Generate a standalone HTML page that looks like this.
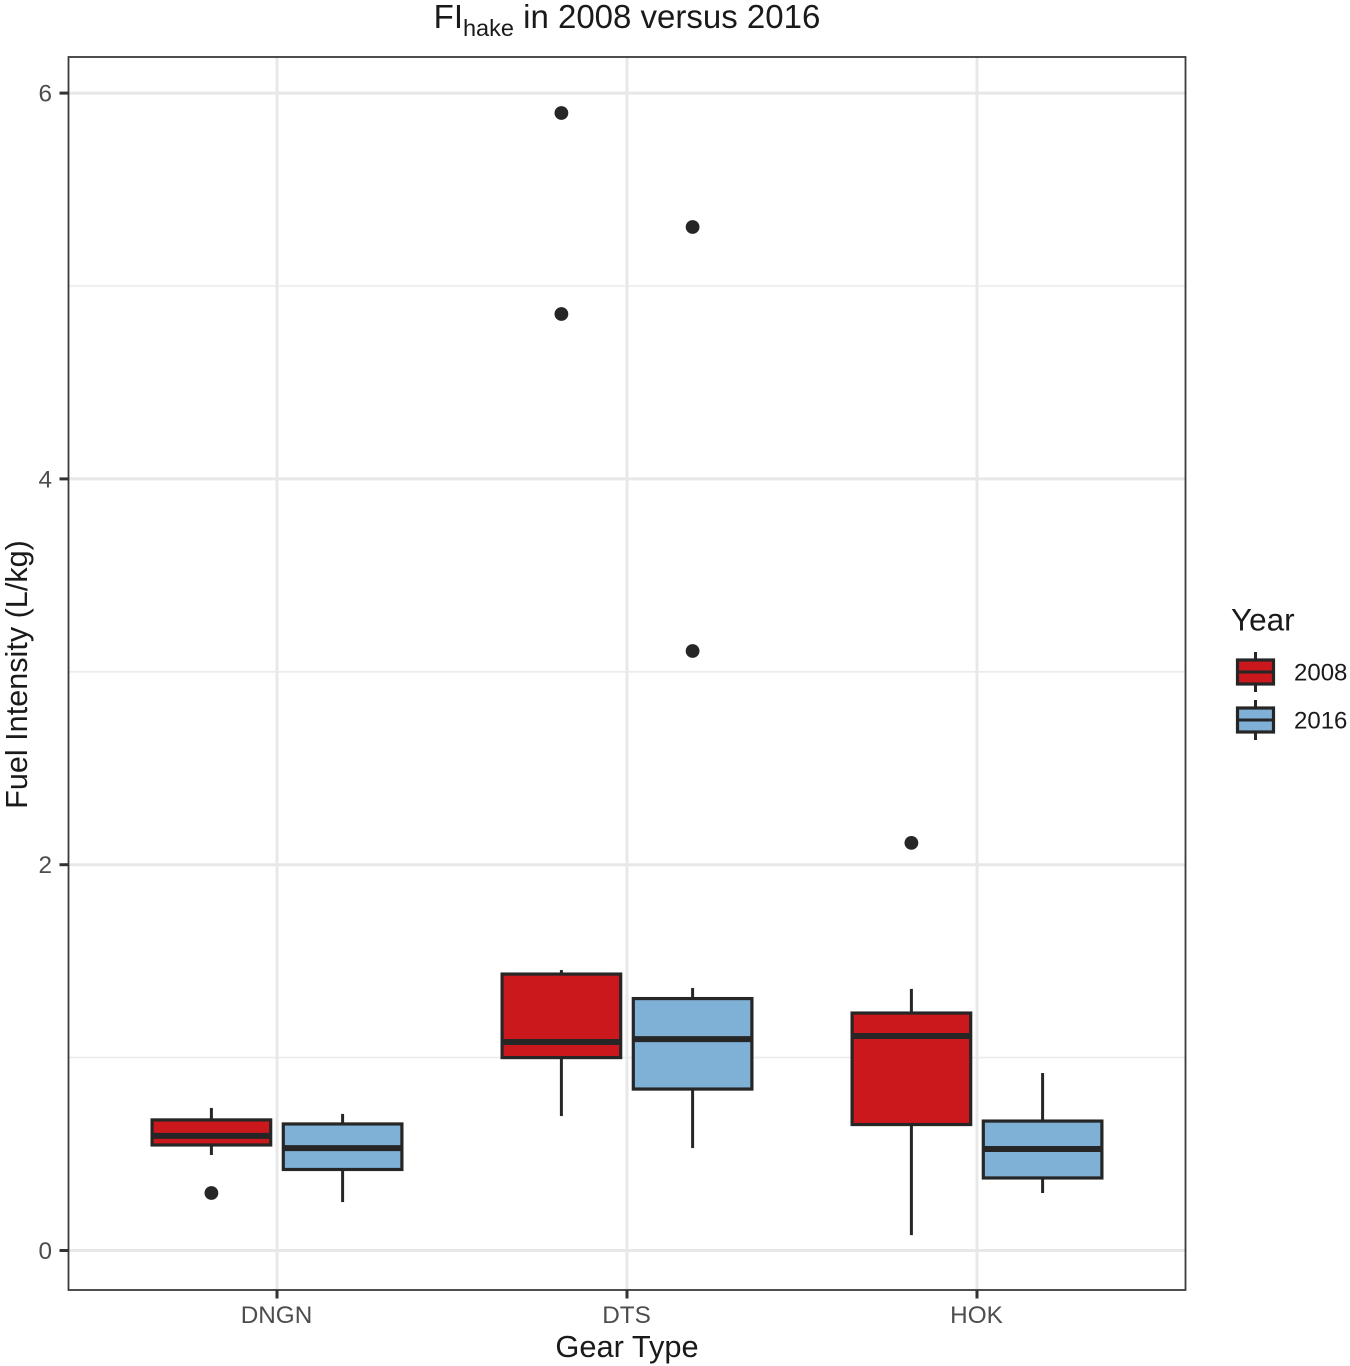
<!DOCTYPE html>
<html lang="en">
<head>
<meta charset="utf-8">
<title>FI hake in 2008 versus 2016</title>
<style>
html,body{margin:0;padding:0;background:#fff;width:1350px;height:1366px;overflow:hidden}
svg{display:block;font-family:"Liberation Sans",Arial,sans-serif}
</style>
</head>
<body>
<svg id="chart" xmlns="http://www.w3.org/2000/svg" width="1350" height="1366" viewBox="0 0 1350 1366">
  <rect x="0" y="0" width="1350" height="1366" fill="#ffffff"/>
  <g id="grid"></g>
  <g id="marks"></g>
  <rect x="68.5" y="57" width="1117" height="1233" fill="none" stroke="#3a3a3a" stroke-width="1.8"/>
  <g id="axes"></g>
  <text x="627" y="28" text-anchor="middle" font-size="33" fill="#1a1a1a">FI<tspan font-size="23.5" dy="8">hake</tspan><tspan dy="-8"> in 2008 versus 2016</tspan></text>
  <text x="627" y="1357" text-anchor="middle" font-size="30.8" fill="#1a1a1a">Gear Type</text>
  <text transform="translate(27,674.5) rotate(-90)" text-anchor="middle" font-size="30.6" fill="#1a1a1a">Fuel Intensity (L/kg)</text>
  <g>
    <text x="1231" y="630.5" font-size="31.5" fill="#1a1a1a">Year</text>
    <g>
      <line x1="1255.5" x2="1255.5" y1="652" y2="692" stroke="#262626" stroke-width="3"/>
      <rect x="1237.5" y="660" width="36" height="24" fill="#cb181d" stroke="#262626" stroke-width="3.2"/>
      <line x1="1237.5" x2="1273.5" y1="672" y2="672" stroke="#262626" stroke-width="3"/>
      <text x="1294" y="680.5" font-size="24" fill="#1a1a1a">2008</text>
    </g>
    <g>
      <line x1="1255.5" x2="1255.5" y1="700" y2="740" stroke="#262626" stroke-width="3"/>
      <rect x="1237.5" y="708" width="36" height="24" fill="#7fb0d6" stroke="#262626" stroke-width="3.2"/>
      <line x1="1237.5" x2="1273.5" y1="720" y2="720" stroke="#262626" stroke-width="3"/>
      <text x="1294" y="728.5" font-size="24" fill="#1a1a1a">2016</text>
    </g>
  </g>
</svg>
<script>
const categories = ["DNGN", "DTS", "HOK"];
const years = ["2008", "2016"];
const yTickLabels = [0, 2, 4, 6];
const yMinorTicks = [1, 3, 5];

const q1Values2008 = [0.547, 1.000, 0.653];
const medianValues2008 = [0.594, 1.081, 1.112];
const q3Values2008 = [0.677, 1.433, 1.231];
const whiskerLow2008 = [0.495, 0.697, 0.080];
const whiskerHigh2008 = [0.739, 1.454, 1.356];
const outliers2008 = [[0.298], [5.897, 4.855], [2.113]];

const q1Values2016 = [0.420, 0.837, 0.376];
const medianValues2016 = [0.531, 1.096, 0.526];
const q3Values2016 = [0.656, 1.306, 0.671];
const whiskerLow2016 = [0.251, 0.531, 0.298];
const whiskerHigh2016 = [0.708, 1.361, 0.920];
const outliers2016 = [[], [5.306, 3.108], []];

const NS = "http://www.w3.org/2000/svg";
const gridG = document.getElementById("grid");
const marksG = document.getElementById("marks");
const axesG = document.getElementById("axes");

function yScale(v) { return 1250.5 - v * 192.9; }
function xScale(i) { return 277 + i * 350; }
const dodge = 65.6;
const boxWidth = 118.6;
const panel = { left: 68.5, right: 1185.5, top: 57, bottom: 1290 };

function make(tag, attrs, parent) {
  const el = document.createElementNS(NS, tag);
  for (const k in attrs) el.setAttribute(k, attrs[k]);
  parent.appendChild(el);
  return el;
}

yMinorTicks.forEach(function (v) {
  const l = make("line", { x1: panel.left, x2: panel.right, y1: yScale(v), y2: yScale(v), stroke: "#ebebeb", "stroke-width": 1.6 }, gridG);
  
  
});
yTickLabels.forEach(function (v) {
  const l = make("line", { x1: panel.left, x2: panel.right, y1: yScale(v), y2: yScale(v), stroke: "#e8e8e8", "stroke-width": 3 }, gridG);
  
  

  const t = make("line", { x1: 59.5, x2: panel.left, y1: yScale(v), y2: yScale(v), stroke: "#333333", "stroke-width": 3 }, axesG);
  
  

  const txt = make("text", { x: 52, y: yScale(v) + 8.5, "text-anchor": "end", "font-size": 24.3, fill: "#4d4d4d" }, axesG);
  txt.textContent = v;
  
  
});
categories.forEach(function (c, i) {
  const l = make("line", { x1: xScale(i), x2: xScale(i), y1: panel.top, y2: panel.bottom, stroke: "#e8e8e8", "stroke-width": 3 }, gridG);
  
  

  const t = make("line", { x1: xScale(i), x2: xScale(i), y1: panel.bottom, y2: 1298.5, stroke: "#333333", "stroke-width": 3 }, axesG);
  
  

  const txt = make("text", { x: xScale(i) - 0.5, y: 1323, "text-anchor": "middle", "font-size": 24.3, fill: "#4d4d4d" }, axesG);
  txt.textContent = c;
  
  
});

const seriesList = [
  { year: years[0], fill: "#cb181d", offset: -dodge, q1: q1Values2008, med: medianValues2008, q3: q3Values2008, lo: whiskerLow2008, hi: whiskerHigh2008, out: outliers2008 },
  { year: years[1], fill: "#7fb0d6", offset: dodge, q1: q1Values2016, med: medianValues2016, q3: q3Values2016, lo: whiskerLow2016, hi: whiskerHigh2016, out: outliers2016 }
];
const ink = "#262626";

seriesList.forEach(function (s) {
  categories.forEach(function (c, i) {
    const cx = xScale(i) + s.offset;
    const g = make("g", {}, marksG);
    
    

    const wh = make("line", { x1: cx, x2: cx, y1: yScale(s.hi[i]), y2: yScale(s.q3[i]), stroke: ink, "stroke-width": 3 }, g);
    
    

    const wl = make("line", { x1: cx, x2: cx, y1: yScale(s.q1[i]), y2: yScale(s.lo[i]), stroke: ink, "stroke-width": 3 }, g);
    
    

    const r = make("rect", { x: cx - boxWidth / 2, y: yScale(s.q3[i]), width: boxWidth, height: yScale(s.q1[i]) - yScale(s.q3[i]), fill: s.fill, stroke: ink, "stroke-width": 3.2 }, g);
    
    

    const m = make("line", { x1: cx - boxWidth / 2, x2: cx + boxWidth / 2, y1: yScale(s.med[i]), y2: yScale(s.med[i]), stroke: ink, "stroke-width": 6 }, g);
    
    

    s.out[i].forEach(function (v) {
      const p = make("circle", { cx: cx, cy: yScale(v), r: 6.9, fill: ink }, g);
      
      
    });
  });
});
</script>
</body>
</html>
